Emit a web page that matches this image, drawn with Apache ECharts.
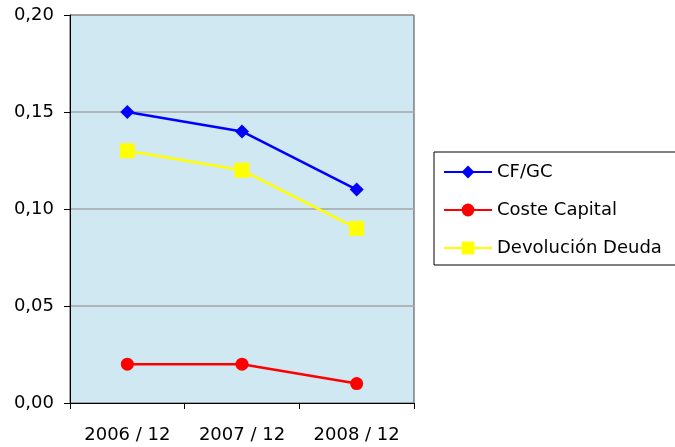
<!DOCTYPE html>
<html><head><meta charset="utf-8">
<script src="https://cdn.jsdelivr.net/npm/echarts@6/dist/echarts.min.js"></script>
<style>html,body{margin:0;padding:0;background:#fff}#c{width:675px;height:447px}</style>
</head><body><div id="c"></div>
<script>
const categories = ['2006 / 12', '2007 / 12', '2008 / 12'];
const cfgc = [0.15, 0.14, 0.11];
const costeCapital = [0.02, 0.02, 0.01];
const devolucionDeuda = [0.13, 0.12, 0.09];

const chart = echarts.init(document.getElementById('c'));
const font = 'DejaVu Sans, sans-serif';
chart.setOption({
  animation: false,
  textStyle: { fontFamily: font },
  grid: { left: 70, top: 15, right: 261, bottom: 44, show: true,
          backgroundColor: '#d0e8f1', borderColor: '#444', borderWidth: 1 },
  legend: {
    orient: 'vertical', left: 434, top: 152,
    padding: [11, 16, 8, 9], itemGap: 20, itemWidth: 48, itemHeight: 16,
    borderColor: '#000', borderWidth: 1, backgroundColor: '#fff',
    textStyle: { fontSize: 18, color: '#000', fontFamily: font, padding: [0, 0, 0, 0] },
    data: ['CF/GC', 'Coste Capital', 'Devolución Deuda']
  },
  xAxis: {
    type: 'category', data: categories, boundaryGap: true,
    axisLine: { lineStyle: { color: '#000', width: 1 } },
    axisTick: { show: true, length: 6, lineStyle: { color: '#000' } },
    axisLabel: { fontSize: 18, color: '#000', margin: 23, fontFamily: font }
  },
  yAxis: {
    type: 'value', min: 0, max: 0.2, interval: 0.05,
    axisLine: { show: true, lineStyle: { color: '#000', width: 1 } },
    axisTick: { show: true, length: 6, lineStyle: { color: '#000' } },
    splitLine: { show: true, lineStyle: { color: '#a4a4a4', width: 1.5 } },
    axisLabel: { fontSize: 18, color: '#000', margin: 16, fontFamily: font,
      formatter: v => v.toFixed(2).replace('.', ',') }
  },
  series: [
    { name: 'CF/GC', type: 'line', data: cfgc, symbol: 'diamond', symbolSize: 14,
      itemStyle: { color: '#0000ff' }, lineStyle: { color: '#0000ff', width: 2.5 } },
    { name: 'Coste Capital', type: 'line', data: costeCapital, symbol: 'circle', symbolSize: 13,
      itemStyle: { color: '#ff0000' }, lineStyle: { color: '#ff0000', width: 2.5 } },
    { name: 'Devolución Deuda', type: 'line', data: devolucionDeuda, symbol: 'rect', symbolSize: 15,
      itemStyle: { color: '#ffff00' }, lineStyle: { color: '#ffff00', width: 2.5 } }
  ]
});
</script></body></html>
